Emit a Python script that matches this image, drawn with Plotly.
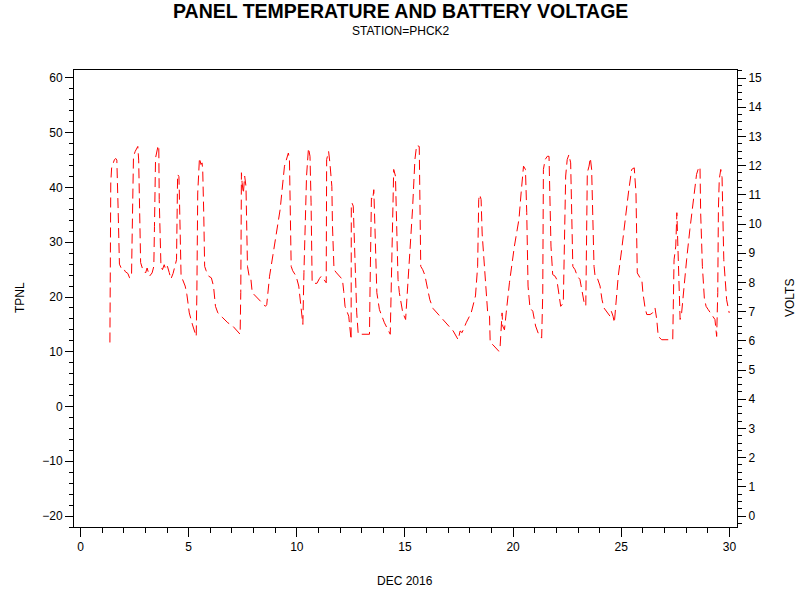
import plotly.graph_objects as go

# Day of December 2016 (fractional) and panel temperature (TPNL)
days = [1.36, 1.40, 1.44, 1.57, 1.63, 1.68, 1.74, 1.77, 1.80, 1.88, 1.96, 2.08, 2.19, 2.27, 2.36,
        2.38, 2.45, 2.53, 2.65, 2.69, 2.74, 2.78, 2.88, 3.01, 3.08, 3.19, 3.31, 3.39,
        3.42, 3.47, 3.59, 3.62, 3.64, 3.72, 3.79, 3.87, 3.94, 4.02, 4.10, 4.18, 4.28, 4.38,
        4.44, 4.49, 4.55, 4.57, 4.60, 4.65, 4.72, 4.84, 4.92, 5.03, 5.18, 5.35,
        5.38, 5.42, 5.50, 5.57, 5.62, 5.65, 5.70, 5.74, 5.81, 5.93, 6.05, 6.15, 6.24,
        6.35, 6.58, 6.81, 7.04, 7.27, 7.38,
        7.41, 7.44, 7.47, 7.53, 7.59, 7.65, 7.68, 7.72, 7.81, 7.88, 7.94, 8.27, 8.55, 8.61,
        8.74, 8.89, 9.04, 9.23, 9.43, 9.54, 9.61, 9.66, 9.69, 9.74, 9.81, 9.97, 10.09, 10.15, 10.28,
        10.33, 10.45, 10.54, 10.61, 10.66, 10.71, 10.82, 10.93, 11.05, 11.13, 11.20, 11.36,
        11.38, 11.47, 11.53, 11.62, 11.65, 11.72, 11.84, 11.99, 12.11, 12.17, 12.23, 12.40, 12.46, 12.51,
        12.52, 12.55, 12.61, 12.66, 12.77, 12.84, 12.90, 13.36,
        13.39, 13.45, 13.51, 13.56, 13.61, 13.70, 13.82, 14.05, 14.32,
        14.37, 14.45, 14.48, 14.56, 14.62, 14.68, 14.74, 14.90, 15.03,
        15.09, 15.21, 15.35, 15.46, 15.54, 15.66, 15.69, 15.73, 15.82, 15.92, 16.02, 16.15,
        16.30, 16.62, 16.93, 17.23, 17.46,
        17.55, 17.64, 17.83, 18.06, 18.26, 18.36, 18.41, 18.46, 18.52, 18.57, 18.68, 18.83, 18.91,
        18.94, 19.06, 19.34,
        19.40, 19.49, 19.52, 19.60, 19.68, 19.83, 20.06, 20.27, 20.37, 20.48, 20.57,
        20.63, 20.69, 20.78, 20.91, 21.04, 21.16, 21.32,
        21.37, 21.40, 21.48, 21.58, 21.66,
        21.70, 21.75, 21.83, 21.94, 22.02, 22.09, 22.20, 22.32,
        22.36, 22.43, 22.50, 22.58, 22.66,
        22.71, 22.76, 22.86, 22.97, 23.09, 23.21, 23.30, 23.36,
        23.39, 23.43, 23.51, 23.57, 23.63,
        23.68, 23.74, 23.79, 23.89, 24.02, 24.11, 24.20, 24.36, 24.48, 24.54, 24.62, 24.68,
        24.76, 24.86, 25.02, 25.17, 25.33, 25.48, 25.60,
        25.68, 25.74, 25.87, 25.95, 26.00, 26.10, 26.18, 26.33, 26.45, 26.56,
        26.64, 26.71, 26.87, 27.38,
        27.44, 27.52, 27.57, 27.61, 27.65, 27.72, 27.79,
        27.90, 28.02, 28.17, 28.33, 28.48, 28.59, 28.64,
        28.67, 28.75, 28.84, 28.92, 29.02, 29.13, 29.22, 29.33, 29.41,
        29.46, 29.49, 29.53, 29.60, 29.66,
        29.69, 29.74, 29.87, 29.99]

tpnl = [11.7, 40.9, 43.6, 45.1, 45.3, 45.0, 36.0, 26.3, 26.0, 25.3, 25.4, 24.6, 24.3, 23.5, 23.8,
        29.2, 45.7, 46.6, 47.5, 45.0, 31.8, 26.3, 25.0, 24.4, 25.3, 23.8, 24.4, 25.6,
        32.9, 45.4, 47.7, 47.5, 37.8, 25.6, 25.0, 25.9, 25.0, 25.6, 24.5, 23.3, 24.3, 25.6,
        26.8, 42.4, 42.0, 39.0, 29.3, 23.8, 23.2, 22.0, 20.4, 17.1, 14.9, 12.8,
        20.8, 39.0, 45.4, 44.2, 44.5, 43.3, 34.8, 25.6, 24.8, 23.8, 23.5, 22.0, 18.3,
        17.1, 16.2, 15.3, 14.7, 13.8, 13.2,
        20.8, 42.7, 40.9, 38.9, 42.1, 40.2, 28.0, 25.6, 23.5, 23.2, 20.8, 19.5, 18.3, 18.6,
        23.8, 27.5, 31.1, 36.0, 43.9, 45.7, 46.3, 45.1, 35.4, 25.6, 24.8, 23.8, 22.0, 19.5, 15.0,
        24.5, 42.1, 47.2, 45.7, 37.2, 22.6, 22.5, 22.5, 23.4, 23.8, 23.5, 22.6,
        45.1, 46.6, 44.5, 40.2, 32.9, 25.0, 24.4, 23.8, 23.2, 21.0, 18.3, 16.5, 14.0, 12.2,
        36.6, 37.2, 36.6, 29.3, 17.1, 13.2, 13.2, 13.2,
        22.6, 38.1, 37.8, 39.6, 33.0, 20.8, 17.7, 15.3, 13.2,
        23.8, 39.0, 43.3, 42.1, 31.5, 23.2, 20.8, 17.1, 15.9,
        19.5, 26.8, 36.0, 45.1, 47.7, 47.5, 37.6, 25.6, 25.0, 24.0, 22.0, 19.5,
        17.9, 16.5, 15.0, 13.8, 12.2,
        13.8, 13.5, 15.3, 17.1, 20.2, 25.6, 37.8, 38.7, 37.8, 31.5, 24.4, 16.8, 16.5,
        11.6, 11.3, 10.1,
        11.0, 17.1, 14.7, 14.0, 17.1, 22.6, 29.3, 34.2, 39.0, 43.9, 43.3,
        35.4, 22.0, 18.0, 17.4, 14.7, 13.4, 12.5,
        20.6, 43.3, 45.1, 45.7, 45.7,
        36.0, 29.3, 24.1, 23.8, 23.2, 21.4, 18.3, 18.9,
        26.8, 42.1, 45.1, 46.0, 44.5,
        34.2, 25.6, 25.0, 23.8, 23.2, 20.8, 18.6, 18.4,
        26.8, 42.7, 43.9, 45.4, 43.3,
        34.2, 25.6, 23.8, 23.5, 22.0, 19.5, 18.0, 17.1, 16.5, 17.4, 16.5, 15.3,
        19.5, 23.8, 28.7, 34.2, 39.0, 43.3, 43.6,
        39.0, 24.4, 23.5, 23.2, 20.8, 18.0, 16.8, 16.8, 17.1, 18.0,
        15.9, 12.8, 12.2, 12.2,
        26.8, 29.3, 35.4, 31.1, 26.8, 15.9, 17.1,
        22.0, 26.8, 32.3, 37.8, 42.4, 43.8, 43.6,
        35.4, 25.6, 19.8, 18.3, 17.7, 17.1, 16.5, 15.9, 12.8,
        20.8, 36.0, 41.5, 43.3, 41.8,
        36.0, 26.8, 19.5, 17.1]

x_ticks = [0, 5, 10, 15, 20, 25, 30]
t_ticks = [-20, -10, 0, 10, 20, 30, 40, 50, 60]
v_ticks = list(range(0, 16))

FONT = "Liberation Sans, Arial, sans-serif"

W, H = 800, 600
# plot box in page pixels: left 74, right 737, top 70, bottom 527
L, T = 74, 70
R = W - 737
B = H - 527
plot_w = W - L - R
plot_h = H - T - B


def xpaper(px):
    return (px - L) / plot_w


def ypaper(py):
    return (H - B - py) / plot_h


fig = go.Figure()
fig.add_trace(go.Scatter(
    x=days, y=tpnl, mode="lines",
    line=dict(color="#ff0000", width=1, dash="10px,5px"),
    showlegend=False, hoverinfo="skip"))
fig.add_trace(go.Scatter(
    x=[None], y=[None], yaxis="y2", mode="lines", showlegend=False, hoverinfo="skip"))

axis_common = dict(
    showline=True, linecolor="black", linewidth=1,
    ticks="outside", tickcolor="black", tickwidth=1,
    showgrid=False, zeroline=False, automargin=False,
    tickfont=dict(family=FONT, size=12, color="black"),
)

fig.update_layout(
    width=W, height=H,
    plot_bgcolor="white", paper_bgcolor="white",
    margin=dict(l=L, r=R, t=T, b=B),
    xaxis=dict(
        range=[-0.3, 30.35], tickvals=x_ticks, ticklen=9, mirror=True,
        minor=dict(dtick=1, tick0=0, ticks="outside", ticklen=5, tickcolor="black"),
        **axis_common),
    yaxis=dict(
        range=[-22.0, 61.46], tickvals=t_ticks, ticklen=8,
        minor=dict(dtick=2, tick0=0, ticks="outside", ticklen=4, tickcolor="black"),
        **axis_common),
    yaxis2=dict(
        overlaying="y", side="right",
        range=[-0.375, 15.274], tickvals=v_ticks, ticklen=8,
        minor=dict(dtick=0.25, tick0=0, ticks="outside", ticklen=4, tickcolor="black"),
        **axis_common),
)

ann_font = dict(family=FONT, size=12, color="black")
fig.add_annotation(text="<b>PANEL TEMPERATURE AND BATTERY VOLTAGE</b>", x=xpaper(400), y=ypaper(11),
                   xref="paper", yref="paper", showarrow=False, xanchor="center", yanchor="middle",
                   font=dict(family=FONT, size=19.5, color="black"))
fig.add_annotation(text="STATION=PHCK2", x=xpaper(401), y=ypaper(31),
                   xref="paper", yref="paper", showarrow=False, xanchor="center", yanchor="middle",
                   font=ann_font)
fig.add_annotation(text="DEC 2016", x=xpaper(405), y=ypaper(581),
                   xref="paper", yref="paper", showarrow=False, xanchor="center", yanchor="middle",
                   font=ann_font)
fig.add_annotation(text="TPNL", x=xpaper(20), y=ypaper(298), textangle=-90,
                   xref="paper", yref="paper", showarrow=False, xanchor="center", yanchor="middle",
                   font=ann_font)
fig.add_annotation(text="VOLTS", x=xpaper(790), y=ypaper(298), textangle=-90,
                   xref="paper", yref="paper", showarrow=False, xanchor="center", yanchor="middle",
                   font=ann_font)

fig.write_html("out.html", config={"displayModeBar": False},
               post_script="document.body.style.margin='0';")
